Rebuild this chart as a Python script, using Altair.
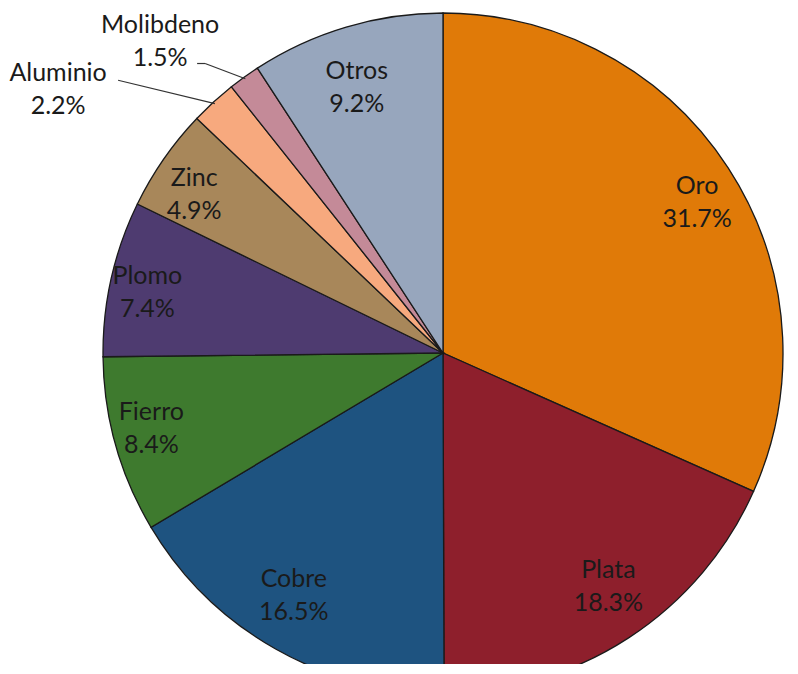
import altair as alt
import pandas as pd
import numpy as np

categories = ["Oro", "Plata", "Cobre", "Fierro", "Plomo", "Zinc", "Aluminio", "Molibdeno", "Otros"]
shares = [31.7, 18.3, 16.5, 8.4, 7.4, 4.9, 2.2, 1.5, 9.2]
colors = ["#E07A08", "#8E1F2C", "#1E5380", "#3E7A2E", "#4E3B70", "#A8875A", "#F7A97E", "#C48A98", "#97A6BD"]
outside = ["Aluminio", "Molibdeno"]

W, H = 780, 656
CX, CY = 435, 345
R = 340
FONT = "Lato"
FS = 25
LH = 33

labels = [f"{c}\n{v:.1f}%" for c, v in zip(categories, shares)]
df = pd.DataFrame({
    "cat": categories,
    "val": shares,
    "idx": list(range(len(categories))),
})

# angles (clockwise from top) derived from the data
total = sum(shares)
cum = np.cumsum(shares) / total * 2 * np.pi
mid = cum - np.array(shares) / total * np.pi
ang = dict(zip(categories, mid))

# inner labels: placed on an ellipse around the centre (layout radii)
RX, RY = 303, 278
in_rows = []
for c, l in zip(categories, labels):
    if c in outside:
        continue
    a = ang[c]
    in_rows.append({"x": CX + RX * np.sin(a), "y": CY - RY * np.cos(a), "t": l})
in_df = pd.DataFrame(in_rows)

# outer label placement: (radius, dx, dy) layout constants
outer_cfg = {"Aluminio": (440, -88, 61), "Molibdeno": (400, -49, 12)}
out_rows = []
lead_rows = []
for c in outside:
    a = ang[c]
    r, dx, dy = outer_cfg[c]
    lx = CX + r * np.sin(a) + dx
    ly = CY - r * np.cos(a) + dy
    out_rows.append({"x": lx, "y": ly, "t": labels[categories.index(c)]})
    ex = CX + (R - 2) * np.sin(a)
    ey = CY - (R - 2) * np.cos(a)
    if c == "Aluminio":
        sx, sy = lx + 60, ly - 9
        lead_rows.append({"x": sx, "y": sy, "x2": ex, "y2": ey})
    else:
        sx, sy = lx + 37, ly + 23
        lead_rows.append({"x": sx, "y": sy, "x2": sx + 8, "y2": sy})
        lead_rows.append({"x": sx + 8, "y": sy, "x2": ex, "y2": ey})
out_df = pd.DataFrame(out_rows)
lead_df = pd.DataFrame(lead_rows)

pie = alt.Chart(df).mark_arc(radius=R, x=CX, y=CY, stroke="#1a1a1a", strokeWidth=1.3).encode(
    theta=alt.Theta("val:Q", stack=True),
    order=alt.Order("idx:Q"),
    color=alt.Color("cat:N", scale=alt.Scale(domain=categories, range=colors), legend=None),
)

text_style = dict(font=FONT, fontSize=FS, lineBreak="\n", lineHeight=LH, color="#1a1a1a",
                  dy=-16, align="center", baseline="middle")

inner_text = alt.Chart(in_df).mark_text(**text_style).encode(
    x=alt.X("x:Q", scale=None), y=alt.Y("y:Q", scale=None), text="t:N"
)

outer_text = alt.Chart(out_df).mark_text(**text_style).encode(
    x=alt.X("x:Q", scale=None), y=alt.Y("y:Q", scale=None), text="t:N"
)

leaders = alt.Chart(lead_df).mark_rule(color="#333333", strokeWidth=1.2).encode(
    x=alt.X("x:Q", scale=None), y=alt.Y("y:Q", scale=None),
    x2="x2:Q", y2="y2:Q"
)

chart = alt.layer(pie, inner_text, leaders, outer_text).properties(
    width=W, height=H, autosize=alt.AutoSizeParams(type="none"), padding=0
).configure_view(stroke="transparent", strokeWidth=0)

chart.save("out.html", embed_options={"renderer": "svg", "actions": False})
